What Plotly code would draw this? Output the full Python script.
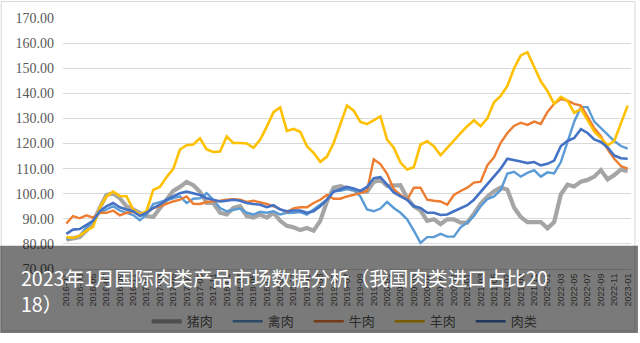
import plotly.graph_objects as go

# ---- data ----
months = [f"{y}-{m:02d}" for y in range(2016, 2024) for m in range(1, 13)][:85]
tick_labels = months[::2]

pork = [81.7, 82.0, 82.7, 85.3, 88.5, 94.3, 99.5, 100.2, 98.2, 95.0, 93.7, 92.0, 91.1, 90.7, 94.3, 97.6, 101.1,
        102.7, 104.7, 103.4, 100.8, 96.3, 96.3, 92.4, 91.7, 94.3, 95.0, 91.1, 90.5, 91.7, 90.5, 92.4, 89.2, 87.2,
        86.6, 85.5, 86.3, 85.3, 89.2, 96.9, 102.4, 103.0, 102.1, 101.5, 100.8, 100.8, 104.7, 105.6, 103.1, 103.1,
        103.4, 98.2, 95.0, 93.3, 89.2, 89.8, 87.9, 89.8, 89.8, 88.5, 88.5, 92.0, 96.0, 98.8, 101.0, 102.5, 101.6,
        94.5, 90.7, 88.7, 88.7, 88.7, 86.2, 88.7, 99.7, 103.6, 102.9, 104.8, 105.5, 106.8, 109.4, 105.7, 107.4,
        109.7, 109.0]
poultry = [82.0, 82.4, 83.3, 86.6, 89.2, 92.4, 93.7, 95.0, 93.3, 92.4, 91.5, 89.4, 91.7, 95.9, 96.7, 97.2, 98.2,
           98.9, 96.3, 98.0, 98.2, 100.2, 97.6, 94.3, 93.0, 93.7, 94.1, 92.4, 91.7, 92.8, 92.4, 93.0, 91.7, 92.4,
           92.4, 92.7, 91.7, 93.7, 95.6, 97.6, 101.1, 101.2, 101.8, 101.5, 98.9, 93.7, 93.0, 94.1, 96.7, 94.3, 92.4,
           89.8, 85.3, 80.4, 82.7, 82.7, 84.0, 82.9, 82.9, 86.6, 88.5, 91.1, 95.0, 97.8, 98.9, 101.5, 108.0, 108.7,
           106.8, 108.3, 109.4, 106.8, 108.5, 108.1, 112.6, 120.3, 128.7, 134.5, 134.5, 128.7, 126.1, 123.5, 121.0,
           119.0, 118.0]
beef = [88.1, 91.1, 90.2, 91.4, 90.5, 92.4, 92.4, 93.3, 91.4, 92.4, 92.8, 91.7, 92.4, 94.3, 95.0, 96.0, 96.9, 97.6,
        98.9, 96.0, 95.9, 96.7, 96.9, 97.2, 97.6, 97.8, 97.6, 96.7, 97.2, 96.7, 95.9, 95.0, 93.7, 92.7, 94.1, 94.6,
        94.6, 96.3, 97.6, 99.5, 98.0, 98.0, 98.9, 99.5, 100.2, 101.1, 113.7, 111.8, 107.9, 101.8, 99.5, 97.6, 102.4,
        102.4, 97.6, 97.2, 96.9, 95.6, 99.5, 101.1, 102.4, 104.4, 104.8, 111.3, 114.5, 120.3, 124.2, 127.0, 128.3,
        127.4, 128.7, 127.8, 132.6, 135.8, 137.7, 137.1, 135.8, 135.1, 130.6, 126.1, 122.9, 117.7, 113.9, 111.0,
        110.0]
mutton = [82.7, 82.4, 83.3, 85.3, 86.8, 94.5, 98.9, 100.8, 99.1, 99.0, 93.7, 91.7, 93.0, 101.5, 102.7, 106.6, 109.9,
          117.6, 119.3, 119.6, 122.1, 117.6, 116.6, 116.8, 122.8, 120.2, 120.2, 120.0, 118.3, 121.5, 126.7, 132.5,
          134.4, 125.0, 125.8, 124.7, 118.9, 116.3, 112.7, 114.8, 120.2, 128.0, 135.1, 133.1, 128.6, 127.7, 129.3,
          130.8, 121.5, 118.3, 112.4, 109.6, 110.5, 119.6, 120.9, 118.9, 115.3, 118.3, 121.5, 124.1, 126.9, 129.3,
          126.9, 130.0, 136.4, 139.0, 142.9, 150.0, 155.1, 156.4, 150.6, 144.8, 140.9, 135.8, 138.6, 137.1, 132.2,
          133.8, 129.3, 124.8, 122.2, 119.3, 121.0, 128.0, 135.1]
meat = [84.0, 85.7, 85.9, 87.6, 89.2, 93.0, 95.0, 96.3, 94.6, 93.7, 93.0, 91.1, 92.4, 94.3, 95.6, 97.6, 98.9, 100.2,
        100.8, 100.2, 99.5, 98.2, 97.6, 96.9, 97.2, 97.6, 97.2, 96.3, 95.9, 95.6, 94.6, 95.4, 93.7, 93.0, 93.3, 93.3,
        92.4, 93.0, 95.0, 97.6, 100.8, 101.9, 102.7, 102.1, 101.1, 102.7, 106.2, 106.6, 103.4, 100.5, 98.9, 97.6,
        95.0, 94.3, 92.4, 92.4, 91.5, 91.7, 93.0, 94.3, 95.4, 97.6, 100.8, 103.6, 106.8, 110.0, 113.9, 113.5, 112.8,
        112.2, 112.6, 111.3, 111.9, 113.2, 119.0, 121.0, 122.2, 125.7, 124.2, 121.6, 120.6, 118.4, 115.2, 114.1,
        113.9]

series_names = ["猪肉", "禽肉", "牛肉", "羊肉", "肉类"]
series_values = [pork, poultry, beef, mutton, meat]
series_colors = ["#A5A5A5", "#5B9BD5", "#ED7D31", "#FFC000", "#4472C4"]
series_widths = [4.2, 2.4, 2.4, 2.6, 2.6]

title_line1 = "2023年1月国际肉类产品市场数据分析（我国肉类进口占比20"
title_line2 = "18）"

# ---- layout geometry (pixels) ----
W, H = 640, 343
L, R, T, B = 63, 7, 18, 66
PW, PH = W - L - R, H - T - B
OVERLAY_TOP = 253
ALPHA = 0.52


def px2x(px):
    return (px - L) / PW


def px2y(py):
    return (H - B - py) / PH


def darken(hexc, a=ALPHA):
    hexc = hexc.lstrip("#")
    r, g, b = (int(hexc[i:i + 2], 16) for i in (0, 2, 4))
    return f"rgb({round(r*(1-a))},{round(g*(1-a))},{round(b*(1-a))})"


fig = go.Figure()
for name, vals, col, w in zip(series_names, series_values, series_colors, series_widths):
    fig.add_trace(go.Scatter(x=months, y=vals, mode="lines", name=name,
                             line=dict(color=col, width=w), showlegend=False))
# legend entries (seen through the dark overlay)
for name, col, w in zip(series_names, series_colors, series_widths):
    fig.add_trace(go.Scatter(x=[None], y=[None], mode="lines", name=name,
                             line=dict(color=darken(col), width=w)))

fig.update_layout(
    width=W, height=H,
    margin=dict(l=L, r=R, t=T, b=B, pad=0),
    paper_bgcolor="white", plot_bgcolor="white",
    showlegend=True,
    legend=dict(orientation="h", x=px2x(147), xanchor="left", y=px2y(331), yanchor="middle",
                entrywidth=36, entrywidthmode="pixels", bgcolor="rgba(0,0,0,0)",
                font=dict(family="Noto Sans CJK SC", size=13, color=darken("#595959")),
                itemwidth=30, tracegroupgap=0),
    xaxis=dict(type="category", range=[-0.5, 84.5], tickmode="array", tickvals=tick_labels,
               ticktext=tick_labels, tickangle=-90, showgrid=False, showline=True,
               linecolor="#D9D9D9", linewidth=1, ticks="",
               tickfont=dict(family="Liberation Sans", size=9, color="#595959")),
    yaxis=dict(range=[70, 170], tickmode="linear", tick0=70, dtick=10, tickformat=".2f",
               showgrid=True, gridcolor="#D9D9D9", gridwidth=1, zeroline=False, ticks="",
               ticklabelstandoff=8,
               tickfont=dict(family="Liberation Serif", size=14, color="#595959")),
    shapes=[
        dict(type="rect", xref="paper", yref="paper", x0=px2x(1), x1=px2x(637), y0=px2y(341), y1=px2y(1),
             line=dict(color="#D9D9D9", width=1), fillcolor="rgba(0,0,0,0)", layer="below"),
        dict(type="rect", xref="paper", yref="paper", x0=px2x(0), x1=px2x(W), y0=px2y(H), y1=px2y(OVERLAY_TOP),
             line=dict(width=0), fillcolor=f"rgba(0,0,0,{ALPHA})", layer="above"),
    ],
    annotations=[
        dict(text=title_line1, xref="paper", yref="paper", x=px2x(19), y=px2y(286), xanchor="left",
             yanchor="middle", showarrow=False,
             font=dict(family="Noto Sans CJK SC", size=19.6, color="white")),
        dict(text=title_line2, xref="paper", yref="paper", x=px2x(19), y=px2y(313), xanchor="left",
             yanchor="middle", showarrow=False,
             font=dict(family="Noto Sans CJK SC", size=19.6, color="white")),
    ],
)

fig.write_html("out.html")
